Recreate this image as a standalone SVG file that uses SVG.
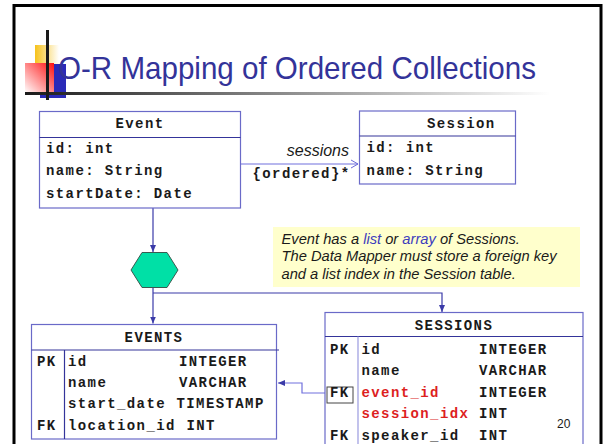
<svg xmlns="http://www.w3.org/2000/svg" width="603" height="444" viewBox="0 0 603 444">
<defs>
<style>
.m{font-family:"Liberation Mono","Courier New",monospace;font-weight:bold;font-size:14px;letter-spacing:1.4px;fill:#1a1a1a}
.r{fill:#dd1f1f}
.box{fill:#fff;stroke:#6a6ac8;stroke-width:1.2}
.div{stroke:#34349a;stroke-width:1.2}
.con{fill:none;stroke:#3a3aa8;stroke-width:1.2}
.lt{fill:none;stroke:#7070dd;stroke-width:1.2}
.note{font-family:"Liberation Sans",Arial,sans-serif;font-style:italic;font-size:14.7px;fill:#1a1a1a}
.hl{fill:#3d3dbd}
</style>
<linearGradient id="gl" x1="0" y1="0" x2="1" y2="0">
<stop offset="0" stop-color="#1a1a1a"/><stop offset="0.25" stop-color="#555"/><stop offset="1" stop-color="#fff"/>
</linearGradient>
<linearGradient id="gy" x1="0" y1="0" x2="1" y2="0">
<stop offset="0" stop-color="#f6c21a"/><stop offset="1" stop-color="#fff"/>
</linearGradient>
<linearGradient id="gr" x1="1" y1="0" x2="0" y2="1">
<stop offset="0" stop-color="#ff1010"/><stop offset="1" stop-color="#fff"/>
</linearGradient>
<marker id="af" markerWidth="8" markerHeight="8" refX="7" refY="4" orient="auto" markerUnits="userSpaceOnUse">
<path d="M0,1 L7,4 L0,7 z" fill="#3a3aa8"/>
</marker>
<marker id="ao" markerWidth="10" markerHeight="10" refX="8" refY="5" orient="auto" markerUnits="userSpaceOnUse">
<path d="M1,1 L8,5 L1,9" fill="none" stroke="#6a6ad8" stroke-width="1"/>
</marker>
</defs>
<rect x="0" y="0" width="603" height="444" fill="#fff"/>
<rect x="14" y="5.5" width="587" height="460" fill="none" stroke="#000" stroke-width="3"/>

<g id="title">
<rect x="35" y="45" width="24" height="19" fill="url(#gy)"/>
<rect x="40" y="64" width="26" height="34" fill="#2a2ab8"/>
<rect x="25" y="63" width="29" height="30" fill="url(#gr)"/>
<rect x="25" y="92" width="525" height="3" fill="url(#gl)"/>
<rect x="46" y="30" width="3" height="70" fill="#1a1a1a"/>
<text x="58" y="79" font-family="Liberation Sans, Arial, sans-serif" font-size="32" fill="#333399" textLength="478" lengthAdjust="spacingAndGlyphs">O-R Mapping of Ordered Collections</text>
</g>

<g id="connectors">
<line class="lt" x1="241" y1="164" x2="358" y2="164" marker-end="url(#ao)"/>
<line class="con" x1="153" y1="208" x2="153" y2="252" marker-end="url(#af)"/>
<line class="con" x1="153" y1="288" x2="153" y2="323.5" marker-end="url(#af)"/>
<polyline class="con" points="153,293 442,293 442,312" marker-end="url(#af)"/>
<polyline class="lt" points="326,393 302,393 302,383 278,383" marker-end="url(#af)"/>
</g>

<g id="event">
<rect class="box" x="39.5" y="111.5" width="201" height="96.5"/>
<line class="div" x1="39.5" y1="137.5" x2="240.5" y2="137.5"/>
<text class="m" x="140" y="128" text-anchor="middle">Event</text>
<text class="m" x="46" y="152.5">id: int</text>
<text class="m" x="46" y="175">name: String</text>
<text class="m" x="46" y="197.5">startDate: Date</text>
</g>

<g id="session">
<rect class="box" x="359.5" y="111" width="156" height="73"/>
<line class="div" x1="359.5" y1="136" x2="515.5" y2="136"/>
<text class="m" x="427" y="128">Session</text>
<text class="m" x="366.5" y="151.5">id: int</text>
<text class="m" x="366.5" y="175">name: String</text>
</g>

<g id="labels">
<text x="349" y="156" text-anchor="end" font-family="Liberation Sans, Arial, sans-serif" font-style="italic" font-size="16" fill="#1a1a1a">sessions</text>
<text class="m" x="252.5" y="178">{ordered}*</text>
</g>

<g id="note">
<rect x="273" y="227" width="307" height="60" fill="#ffffcc"/>
<text class="note" x="281.5" y="243.5">Event has a <tspan class="hl">list</tspan> or <tspan class="hl">array</tspan> of Sessions.</text>
<text class="note" x="281.5" y="261">The Data Mapper must store a foreign key</text>
<text class="note" x="281.5" y="278.5">and a list index in the Session table.</text>
</g>

<g id="hexagon">
<polygon points="131,270 142,252.5 167,252.5 178,270 167,287.5 142,287.5" fill="#00e0a6" stroke="#3a5a50" stroke-width="1"/>
</g>

<g id="events-table">
<rect class="box" x="31.5" y="324.5" width="245" height="114.5"/>
<line class="div" x1="31.5" y1="350" x2="279" y2="350"/>
<line class="div" x1="64.5" y1="350" x2="64.5" y2="439"/>
<text class="m" x="154" y="341.5" text-anchor="middle">EVENTS</text>
<text class="m" x="37" y="366">PK</text>
<text class="m" x="68" y="366">id</text>
<text class="m" x="179" y="366">INTEGER</text>
<text class="m" x="68" y="387">name</text>
<text class="m" x="179" y="387">VARCHAR</text>
<text class="m" x="68" y="408">start_date</text>
<text class="m" x="176.5" y="408">TIMESTAMP</text>
<text class="m" x="37" y="430">FK</text>
<text class="m" x="68" y="430">location_id</text>
<text class="m" x="186.5" y="430">INT</text>
</g>

<g id="sessions-table">
<rect class="box" x="325" y="312.5" width="258" height="145"/>
<line class="div" x1="325" y1="336.5" x2="583" y2="336.5"/>
<line x1="358" y1="336.5" x2="358" y2="444" stroke="#9a9ae0" stroke-width="1.2"/>
<text class="m" x="454" y="329.5" text-anchor="middle">SESSIONS</text>
<text class="m" x="330" y="353.5">PK</text>
<text class="m" x="361.5" y="353.5">id</text>
<text class="m" x="479" y="353.5">INTEGER</text>
<text class="m" x="361.5" y="375">name</text>
<text class="m" x="479" y="375">VARCHAR</text>
<rect x="327" y="387" width="26" height="16" fill="#fff" stroke="#444" stroke-width="1"/>
<text class="m" x="330" y="397">FK</text>
<text class="m r" x="361.5" y="397">event_id</text>
<text class="m" x="479" y="397">INTEGER</text>
<text class="m r" x="361.5" y="417.5">session_idx</text>
<text class="m" x="479" y="417.5">INT</text>
<text class="m" x="330" y="439.5">FK</text>
<text class="m" x="361.5" y="439.5">speaker_id</text>
<text class="m" x="479" y="439.5">INT</text>
<text x="557" y="428" font-family="Liberation Sans, Arial, sans-serif" font-size="12" fill="#1a1a1a">20</text>
</g>
</svg>
